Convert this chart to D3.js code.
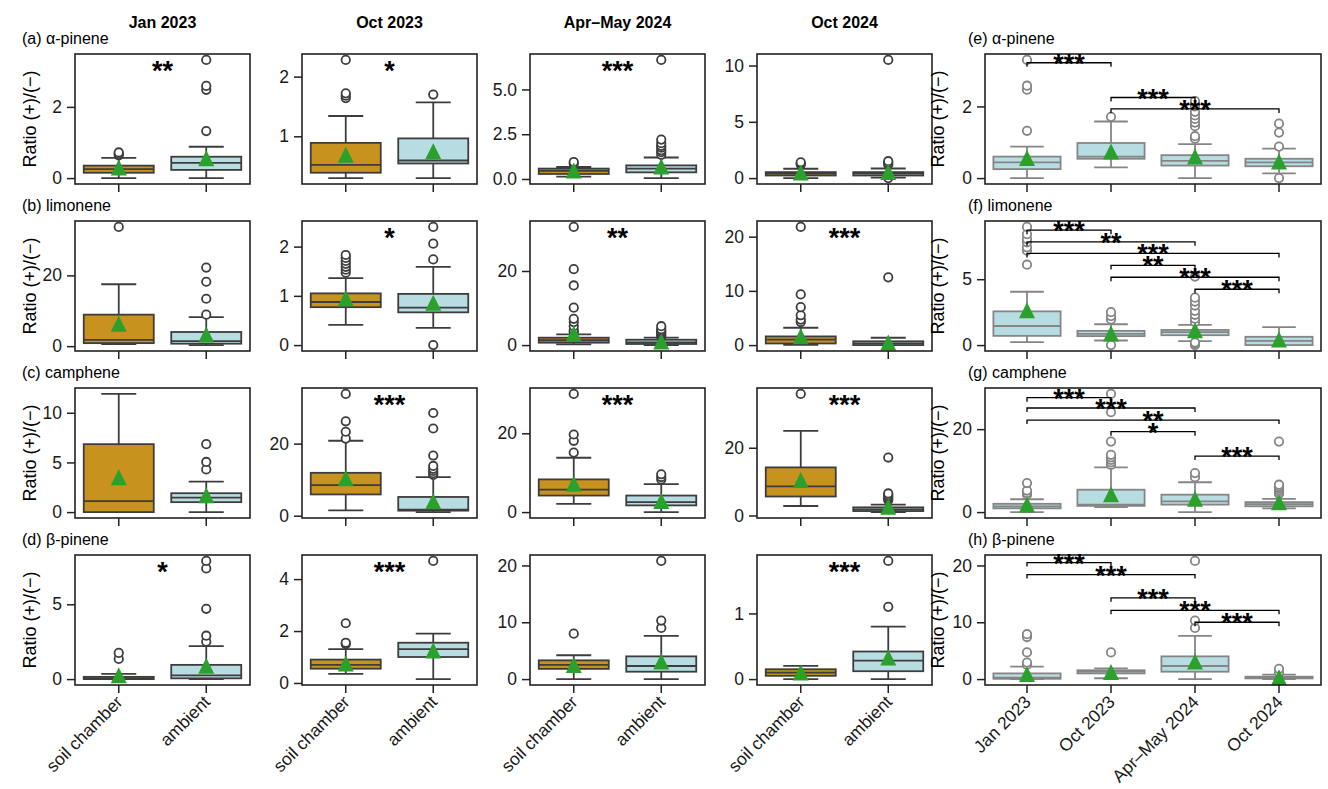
<!DOCTYPE html>
<html>
<head>
<meta charset="utf-8">
<script src="https://cdn.jsdelivr.net/npm/d3@7"></script>
<style>
  body { margin: 0; background: #fff; }
  svg { font-family: "Liberation Sans", Arial, sans-serif; }
  .tick text { font-size: 17.5px; fill: #1a1a1a; }
  .tick line { stroke: #222; stroke-width: 1.5; }
  .col-title { font-size: 16px; font-weight: bold; }
  .tag { font-size: 16px; }
  .ylab { font-size: 18px; }
  .sig { font-size: 27px; font-weight: bold; }
</style>
</head>
<body>
<svg id="chart" width="1328" height="789"></svg>
<script>
// categories
const periods = ["Jan 2023", "Oct 2023", "Apr–May 2024", "Oct 2024"];
const sites = ["soil chamber", "ambient"];
const compounds = ["α-pinene", "limonene", "camphene", "β-pinene"];
const leftTags = ["(a)", "(b)", "(c)", "(d)"];
const rightTags = ["(e)", "(f)", "(g)", "(h)"];

// box stats: [whisker low, q1, median, q3, whisker high, mean, outliers]
// per period: [soil chamber, ambient]
const aPineneSite = [
  [[0.0, 0.15, 0.25, 0.35, 0.57, 0.3, [0.64, 0.68, 0.72]], [0.0, 0.23, 0.43, 0.6, 0.88, 0.56, [1.32, 2.48, 2.59, 3.32]]],
  [[0.3, 0.39, 0.52, 0.89, 1.34, 0.69, [1.64, 1.68, 1.72, 2.28]], [0.3, 0.545, 0.595, 0.965, 1.57, 0.75, [1.7]]],
  [[0.13, 0.28, 0.45, 0.58, 0.67, 0.48, [0.85, 0.95]], [0.05, 0.37, 0.58, 0.76, 1.2, 0.7, [1.35, 1.5, 1.6, 1.75, 1.85, 2.0, 2.2, 6.65]]],
  [[0.0, 0.23, 0.4, 0.53, 0.83, 0.5, [1.2, 1.3, 1.4]], [0.05, 0.23, 0.4, 0.53, 0.85, 0.55, [0.0, 1.2, 1.35, 1.5, 10.5]]]
];
const limoneneSite = [
  [[0.55, 0.85, 1.8, 8.9, 17.5, 6.3, [33.7]], [0.3, 0.7, 1.4, 4.0, 8.2, 3.3, [8.9, 13.4, 18.2, 22.2]]],
  [[0.41, 0.77, 0.875, 1.05, 1.36, 0.95, [1.47, 1.53, 1.59, 1.65, 1.71, 1.77, 1.83]], [0.35, 0.665, 0.76, 1.04, 1.59, 0.86, [0.0, 1.74, 2.06, 2.4]]],
  [[0.2, 0.65, 1.3, 2.0, 2.9, 3.1, [3.5, 4.0, 5.1, 6.2, 7.1, 10.1, 16.1, 20.5, 31.9]], [0.0, 0.3, 0.75, 1.45, 2.0, 1.0, [2.3, 2.7, 3.1, 3.5, 3.9, 4.3, 5.1]]],
  [[0.05, 0.3, 1.0, 1.6, 3.2, 1.65, [4.25, 4.7, 5.5, 7.0, 9.35, 21.8]], [0.0, 0.0, 0.3, 0.7, 1.35, 0.5, [12.5]]]
];
const campheneSite = [
  [[0.0, 0.0, 1.1, 6.84, 11.9, 3.5, []], [0.0, 1.0, 1.45, 1.9, 3.07, 1.7, [4.3, 5.05, 6.84]]],
  [[1.5, 5.9, 8.5, 11.9, 20.8, 10.4, [21.4, 23.3, 26.2, 33.8]], [1.0, 1.4, 1.65, 5.2, 10.7, 4.0, [11.3, 11.8, 12.4, 13.0, 13.8, 16.7, 24.2, 28.5]]],
  [[2.1, 4.2, 5.7, 8.3, 13.8, 7.2, [15.1, 18.1, 19.7, 30.0]], [0.0, 1.7, 2.55, 4.2, 7.1, 2.8, [8.3, 8.9, 9.6]]],
  [[2.8, 5.6, 8.6, 14.2, 25.0, 10.5, [35.9]], [1.0, 1.3, 1.8, 2.4, 3.2, 2.6, [4.5, 5.0, 5.5, 6.0, 6.5, 17.1]]]
];
const bPineneSite = [
  [[0.0, 0.0, 0.05, 0.15, 0.35, 0.25, [1.35, 1.75]], [0.0, 0.05, 0.25, 0.95, 2.2, 0.9, [2.5, 2.9, 4.7, 7.4, 7.9]]],
  [[0.35, 0.55, 0.7, 0.9, 1.3, 0.75, [1.5, 1.55, 2.3]], [0.15, 1.0, 1.3, 1.55, 1.9, 1.25, [4.7]]],
  [[0.0, 1.8, 2.5, 3.3, 4.2, 2.5, [8.0]], [0.0, 1.3, 2.3, 4.0, 7.6, 3.1, [9.0, 10.3, 20.8]]],
  [[0.0, 0.05, 0.1, 0.15, 0.2, 0.1, []], [0.0, 0.12, 0.28, 0.42, 0.8, 0.33, [1.1, 1.8]]]
];
const siteStats = [aPineneSite, limoneneSite, campheneSite, bPineneSite];

// significance soil chamber vs ambient, per compound, per period
const siteSig = [
  ["**", "*", "***", ""],
  ["", "*", "**", "***"],
  ["", "***", "***", "***"],
  ["*", "***", "", "***"]
];

const siteTicks = [
  [[0, 2], [1, 2], [0, 2.5, 5], [0, 5, 10]],
  [[0, 20], [0, 1, 2], [0, 20], [0, 10, 20]],
  [[0, 5, 10], [0, 20], [0, 20], [0, 20]],
  [[0, 5], [0, 2, 4], [0, 10, 20], [0, 1]]
];

// ambient by period (right column), same stat layout
const aPineneDates = [
  [0.0, 0.25, 0.44, 0.6, 0.88, 0.56, [1.32, 2.47, 2.58, 3.3]],
  [0.3, 0.54, 0.6, 0.98, 1.58, 0.74, [1.71]],
  [0.0, 0.35, 0.48, 0.64, 0.95, 0.6, [1.1, 1.17, 1.45, 1.55, 1.65, 1.75, 1.85, 2.0, 2.15]],
  [0.13, 0.33, 0.44, 0.54, 0.82, 0.46, [0.0, 0.88, 1.27, 1.52]]
];
const limoneneDates = [
  [0.23, 0.7, 1.45, 2.56, 4.05, 2.64, [6.1, 7.16, 7.42, 7.8, 8.05, 8.42, 8.97]],
  [0.35, 0.68, 0.85, 1.08, 1.58, 0.88, [0.0, 1.95, 2.2, 2.5]],
  [0.3, 0.75, 0.98, 1.15, 1.53, 1.13, [0.0, 0.1, 0.2, 1.75, 2.0, 2.3, 2.6, 3.0, 3.3, 3.6, 5.2]],
  [0.0, 0.0, 0.32, 0.63, 1.36, 0.43, []]
];
const campheneDates = [
  [0.0, 0.9, 1.4, 2.0, 3.1, 1.85, [4.2, 4.6, 5.2, 7.0]],
  [1.2, 1.5, 1.8, 5.4, 10.8, 4.3, [11.4, 12.0, 12.6, 13.2, 13.8, 17.0, 24.1, 28.5]],
  [0.0, 1.8, 2.6, 4.2, 7.2, 3.2, [8.4, 9.4]],
  [0.9, 1.4, 1.9, 2.4, 3.2, 2.4, [4.4, 4.8, 5.3, 5.8, 6.2, 6.6, 17.0]]
];
const bPineneDates = [
  [0.0, 0.05, 0.25, 1.0, 2.2, 0.9, [2.5, 2.9, 4.7, 7.4, 7.9]],
  [0.15, 1.0, 1.3, 1.55, 1.9, 1.25, [4.7]],
  [0.0, 1.3, 2.3, 4.0, 7.6, 3.1, [9.0, 10.3, 20.8]],
  [0.0, 0.12, 0.28, 0.42, 0.8, 0.33, [1.1, 1.8]]
];
const dateStats = [aPineneDates, limoneneDates, campheneDates, bPineneDates];

// pairwise brackets: [from, to, label, level]
const dateBrackets = [
  [[0, 1, "***", 3.22], [1, 2, "***", 2.25], [1, 3, "***", 1.93]],
  [[0, 1, "***", 8.72], [0, 2, "**", 7.84], [0, 3, "***", 6.96], [1, 2, "**", 6.05], [1, 3, "***", 5.15], [2, 3, "***", 4.24]],
  [[0, 1, "***", 27.6], [0, 2, "***", 25.1], [0, 3, "**", 22.2], [1, 2, "*", 19.4], [2, 3, "***", 13.5]],
  [[0, 1, "***", 20.5], [0, 2, "***", 18.4], [1, 2, "***", 14.3], [1, 3, "***", 12.1], [2, 3, "***", 10.0]]
];
const dateTicks = [[0, 2], [0, 5], [0, 20], [0, 10, 20]];

// layout
const colX = [75, 302, 530, 757], panelW = 175;
const rowY = [54, 221, 388, 555], panelH = 130;
const rightX = 985, rightW = 336;
const orange = "#c8921f", blue = "#b7dde2", green = "#2ca02c";

const svg = d3.select("#chart");

function yDomain(boxes) {
  const vals = boxes.flatMap(b => [b[0], b[4], b[5], ...b[6]]);
  const lo = d3.min(vals), hi = d3.max(vals), p = (hi - lo) * 0.05;
  return [lo - p, hi + p];
}

function drawBox(g, cx, bw, y, b, fill, edge) {
  const [lo, q1, med, q3, hi, mean, out] = b;
  g.append("line").attr("x1", cx).attr("x2", cx).attr("y1", y(q3)).attr("y2", y(hi));
  g.append("line").attr("x1", cx).attr("x2", cx).attr("y1", y(q1)).attr("y2", y(lo));
  g.append("line").attr("x1", cx - bw / 4).attr("x2", cx + bw / 4).attr("y1", y(hi)).attr("y2", y(hi));
  g.append("line").attr("x1", cx - bw / 4).attr("x2", cx + bw / 4).attr("y1", y(lo)).attr("y2", y(lo));
  g.append("rect").attr("x", cx - bw / 2).attr("width", bw)
    .attr("y", y(q3)).attr("height", Math.max(0.5, y(q1) - y(q3)))
    .attr("fill", fill);
  g.append("line").attr("x1", cx - bw / 2).attr("x2", cx + bw / 2).attr("y1", y(med)).attr("y2", y(med));
  g.selectAll("line, rect").attr("stroke", edge).attr("stroke-width", 1.8);
  g.selectAll(".out").data(out).enter().append("circle")
    .attr("cx", cx).attr("cy", d => y(d)).attr("r", 4.2)
    .attr("fill", "#fff").attr("stroke", edge).attr("stroke-width", 1.8);
  g.append("path").attr("d", "M0,-8L8,8L-8,8Z")
    .attr("transform", `translate(${cx},${y(mean)})`).attr("fill", green);
}

function panel(x0, y0, w, cats, boxes, ticks, fills, edge, showX) {
  const g = svg.append("g");
  const x = d3.scaleBand().domain(cats).range([x0, x0 + w]);
  const y = d3.scaleLinear().domain(yDomain(boxes)).range([y0 + panelH, y0]);
  boxes.forEach((b, i) => drawBox(g.append("g"), x(cats[i]) + x.bandwidth() / 2, x.bandwidth() * 0.8, y, b, fills[i], edge));
  g.append("rect").attr("x", x0).attr("y", y0).attr("width", w).attr("height", panelH)
    .attr("fill", "none").attr("stroke", "#222").attr("stroke-width", 1.6);
  const fmt = ticks.some(t => !Number.isInteger(t)) ? d3.format(".1f") : d3.format("d");
  g.append("g").attr("transform", `translate(${x0},0)`)
    .call(d3.axisLeft(y).tickValues(ticks).tickFormat(fmt).tickSize(8).tickPadding(5))
    .call(a => a.select(".domain").remove());
  const xa = g.append("g").attr("transform", `translate(0,${y0 + panelH})`)
    .call(d3.axisBottom(x).tickSize(8).tickFormat(showX ? null : () => ""))
    .call(a => a.select(".domain").remove());
  xa.selectAll(".tick text").attr("text-anchor", "end").attr("x", 0).attr("y", 0).attr("dy", 0)
    .attr("transform", "translate(5,18) rotate(-45)");
  g.selectAll(".tick text").attr("fill", "#1a1a1a").style("font-family", "Liberation Sans, Arial, sans-serif");
  return { g, x, y };
}

compounds.forEach((c, r) => {
  const y0 = rowY[r];
  const last = r === compounds.length - 1;
  periods.forEach((p, k) => {
    const { g } = panel(colX[k], y0, panelW, sites, siteStats[r][k], siteTicks[r][k], [orange, blue], "#3d3d3d", last);
    if (siteSig[r][k]) {
      g.append("text").attr("class", "sig").attr("x", colX[k] + panelW / 2).attr("y", y0 + 26)
        .attr("text-anchor", "middle").text(siteSig[r][k]);
    }
  });
  svg.append("text").attr("class", "tag").attr("x", 22).attr("y", y0 - 10).text(`${leftTags[r]} ${c}`);
  svg.append("text").attr("class", "ylab").attr("text-anchor", "middle")
    .attr("transform", `translate(36,${y0 + panelH / 2}) rotate(-90)`).text("Ratio (+)/(−)");

  const { g, x, y } = panel(rightX, y0, rightW, periods, dateStats[r], dateTicks[r], periods.map(() => blue), "#858585", last);
  const cx = d => x(periods[d]) + x.bandwidth() / 2;
  dateBrackets[r].forEach(([a, b, lab, lev]) => {
    const yy = y(lev);
    g.append("path").attr("d", `M${cx(a)},${yy + 4}V${yy}H${cx(b)}V${yy + 4}`)
      .attr("fill", "none").attr("stroke", "#000").attr("stroke-width", 1.3);
    g.append("text").attr("class", "sig").attr("x", (cx(a) + cx(b)) / 2).attr("y", yy + 10)
      .attr("text-anchor", "middle").text(lab);
  });
  svg.append("text").attr("class", "tag").attr("x", 968).attr("y", y0 - 10).text(`${rightTags[r]} ${c}`);
  svg.append("text").attr("class", "ylab").attr("text-anchor", "middle")
    .attr("transform", `translate(944,${y0 + panelH / 2}) rotate(-90)`).text("Ratio (+)/(−)");
});

periods.forEach((p, k) => {
  svg.append("text").attr("class", "col-title").attr("text-anchor", "middle")
    .attr("x", colX[k] + panelW / 2).attr("y", 28).text(p);
});
</script>
</body>
</html>
